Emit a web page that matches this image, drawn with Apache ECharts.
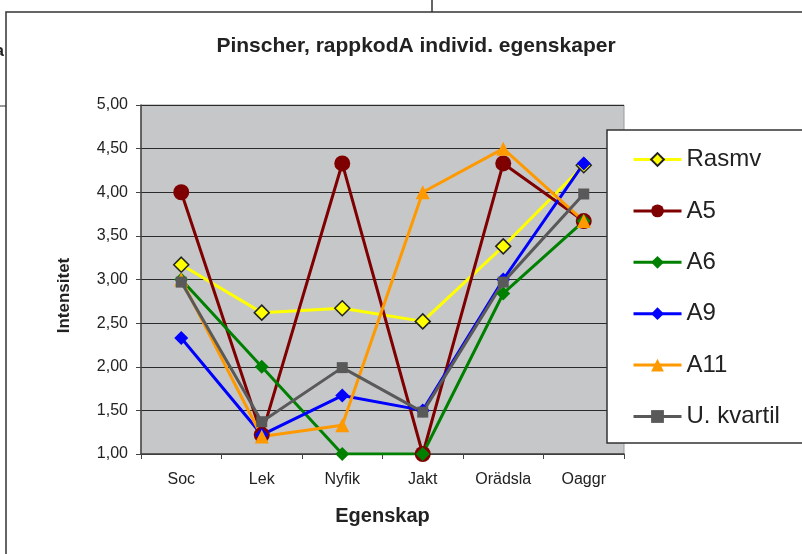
<!DOCTYPE html>
<html>
<head>
<meta charset="utf-8">
<script src="https://cdn.jsdelivr.net/npm/echarts@6/dist/echarts.min.js"></script>
<style>
  html, body { margin: 0; padding: 0; background: #fff; }
  #chart { width: 802px; height: 554px; }
</style>
</head>
<body>
<div id="chart"></div>
<script>
const categories = ['Soc', 'Lek', 'Nyfik', 'Jakt', 'Orädsla', 'Oaggr']
const rasmv = [3.17, 2.62, 2.67, 2.52, 3.38, 4.31]
const a5 = [4.0, 1.22, 4.33, 1.0, 4.33, 3.67]
const a6 = [3.0, 2.0, 1.0, 1.0, 2.84, 3.67]
const a9 = [2.33, 1.22, 1.67, 1.5, 3.0, 4.33]
const a11 = [3.0, 1.2, 1.33, 4.0, 4.5, 3.67]
const uKvartil = [2.97, 1.37, 1.99, 1.48, 2.97, 3.98]
const yTicks = [1, 1.5, 2, 2.5, 3, 3.5, 4, 4.5, 5]

const chart = echarts.init(document.getElementById('chart'))

const fmt = (v) => v.toFixed(2).replace('.', ',')

const line = (name, data, color, symbol, size, extra) => ({
  name,
  type: 'line',
  data,
  symbol,
  symbolSize: size,
  lineStyle: { color, width: 3 },
  itemStyle: Object.assign({ color }, extra || {}),
  emphasis: { disabled: true },
  z: 2,
})

const option = {
  animation: false,
  backgroundColor: '#fff',
  textStyle: { fontFamily: 'Liberation Sans, Arial, sans-serif' },
  title: {
    text: 'Pinscher, rappkodA individ. egenskaper',
    left: 411,
    textAlign: 'center',
    top: 31,
    textStyle: { fontSize: 21, fontWeight: 'bold', color: '#222' },
  },
  grid: {
    left: 141,
    top: 105,
    width: 483,
    height: 349,
    show: true,
    backgroundColor: '#c6c7c9',
    borderColor: '#9a9a9a',
    borderWidth: 1,
  },
  legend: {
    orient: 'vertical',
    left: 632,
    top: 146,
    padding: 0,
    itemWidth: 48,
    itemHeight: 16,
    itemGap: 24.4,
    lineStyle: { width: 3 },
    textStyle: { fontSize: 24, color: '#222', lineHeight: 27 },
    data: ['Rasmv', 'A5', 'A6', 'A9', 'A11', 'U. kvartil'],
    z: 5,
  },
  xAxis: {
    type: 'category',
    data: categories,
    boundaryGap: true,
    name: 'Egenskap',
    nameLocation: 'middle',
    nameGap: 52,
    nameTextStyle: { fontSize: 20, fontWeight: 'bold', color: '#222' },
    axisLine: { lineStyle: { color: '#444', width: 1.5 } },
    axisTick: { show: true, length: 5, lineStyle: { color: '#444' } },
    axisLabel: { fontSize: 16, color: '#222', margin: 18 },
  },
  yAxis: {
    type: 'value',
    min: 1,
    max: 5,
    interval: 0.5,
    name: 'Intensitet',
    nameLocation: 'middle',
    nameGap: 68,
    nameTextStyle: { fontSize: 17, fontWeight: 'bold', color: '#222', padding: [0, 32, 0, 0] },
    axisLine: { show: true, lineStyle: { color: '#444', width: 1.5 } },
    axisTick: { show: true, length: 5, lineStyle: { color: '#444' } },
    axisLabel: {
      fontSize: 16,
      color: '#222',
      margin: 13,
      formatter: (v) => (yTicks.includes(v) ? fmt(v) : ''),
    },
    splitLine: { lineStyle: { color: '#2a2a2a', width: 1 } },
  },
  graphic: [
    // scan frame
    { type: 'polyline', shape: { points: [[6, 554], [6, 12], [802, 12]] }, style: { stroke: '#333', lineWidth: 1.5, fill: null }, z: 0 },
    { type: 'line', shape: { x1: 432, y1: 0, x2: 432, y2: 12 }, style: { stroke: '#333', lineWidth: 1.5 }, z: 0 },
    { type: 'line', shape: { x1: 0, y1: 106, x2: 6, y2: 106 }, style: { stroke: '#333', lineWidth: 1 }, z: 0 },
    { type: 'text', left: -14, top: 44, style: { text: 'ka', font: 'bold 16px Liberation Sans', fill: '#222' }, z: 0 },
    // legend box
    { type: 'rect', shape: { x: 607, y: 130, width: 200, height: 313 }, style: { fill: '#fff', stroke: '#333', lineWidth: 1.5 }, z: 4 },
  ],
  series: [
    line('Rasmv', rasmv, '#ffff00', 'diamond', 15, { borderColor: '#222', borderWidth: 1.5 }),
    line('A5', a5, '#7f0000', 'circle', 16),
    line('A6', a6, '#008000', 'diamond', 14),
    line('A9', a9, '#0000ff', 'diamond', 14),
    line('A11', a11, '#ff9900', 'triangle', 14),
    line('U. kvartil', uKvartil, '#595959', 'rect', 11),
  ],
}

chart.setOption(option)
</script>
</body>
</html>
